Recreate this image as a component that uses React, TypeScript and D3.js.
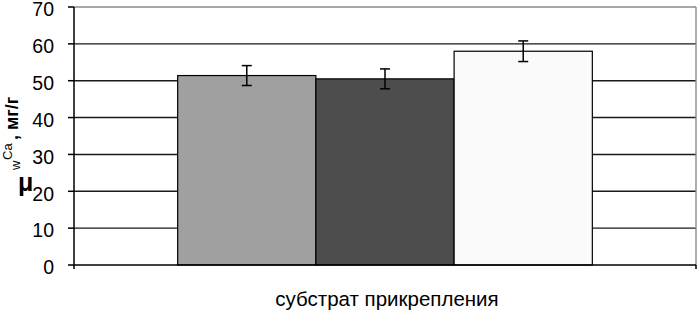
import React from "react";
import { scaleLinear, scaleBand } from "d3";

const series = ["s1", "s2", "s3"];
const values = [51.4, 50.5, 58.0];
const errors = [2.7, 2.7, 2.8];
const fills = ["#a0a0a0", "#4d4d4d", "#fafafa"];
const yTicks = [0, 10, 20, 30, 40, 50, 60, 70];
const xTitle = "субстрат прикрепления";

const W = 698;
const H = 312;
const left = 74;
const right = 696;
const top = 7;
const bottom = 265;
const font = "'Liberation Sans', Arial, sans-serif";

function App() {
  const y = scaleLinear().domain([0, 70]).range([bottom, top]);
  const x = scaleBand().domain(series).range([left, right]).paddingInner(0).paddingOuter(0.75);

  return (
    <svg width={W} height={H} style={{ position: "absolute", left: 0, top: 0 }} fontFamily={font}>
      <rect x={0} y={0} width={W} height={H} fill="#fff" />
      {/* gridlines */}
      {yTicks.filter(t => t > 0 && t < 70).map(t => (
        <line key={t} x1={left} x2={right} y1={y(t)} y2={y(t)} stroke="#1a1a1a" strokeWidth={1.4} />
      ))}
      {/* plot border */}
      <line x1={left} x2={right} y1={y(70)} y2={y(70)} stroke="#8a8a8a" strokeWidth={1.4} />
      <line x1={right} x2={right} y1={top} y2={bottom} stroke="#8a8a8a" strokeWidth={1.4} />
      {/* bars */}
      {series.map((s, i) => (
        <rect key={s} x={x(s)} y={y(values[i])} width={x.bandwidth()} height={bottom - y(values[i])}
          fill={fills[i]} stroke="#000" strokeWidth={1.2} />
      ))}
      {/* error bars */}
      {series.map((s, i) => {
        const cx = (x(s) as number) + x.bandwidth() / 2;
        const hi = y(values[i] + errors[i]);
        const lo = y(values[i] - errors[i]);
        return (
          <g key={s} stroke="#000" strokeWidth={1.5}>
            <line x1={cx} x2={cx} y1={hi} y2={lo} />
            <line x1={cx - 5} x2={cx + 5} y1={hi} y2={hi} />
            <line x1={cx - 5} x2={cx + 5} y1={lo} y2={lo} />
          </g>
        );
      })}
      {/* axes */}
      <line x1={left} x2={left} y1={top} y2={bottom + 4} stroke="#000" strokeWidth={1.5} />
      <line x1={left} x2={right} y1={bottom} y2={bottom} stroke="#000" strokeWidth={1.5} />
      <line x1={right} x2={right} y1={bottom} y2={bottom + 4} stroke="#000" strokeWidth={1.5} />
      {yTicks.map(t => (
        <g key={t}>
          <line x1={left - 6} x2={left} y1={y(t)} y2={y(t)} stroke="#000" strokeWidth={1.5} />
          <text x={54} y={y(t) + 2.5} dy="0.35em" textAnchor="end" fontSize={19.5} fill="#000">{t}</text>
        </g>
      ))}
      {/* x title */}
      <text x={387} y={306} textAnchor="middle" fontSize={20.5} fill="#000">{xTitle}</text>
      {/* y title */}
      <text x={18} y={191} fontSize={25} fontWeight="bold" fill="#000">μ</text>
      <text transform="rotate(-90)" fill="#000">
        <tspan x={-170} y={20} fontSize={13}>w</tspan>
        <tspan x={-160} y={12} fontSize={13}>Ca</tspan>
        <tspan x={-140} y={18} fontSize={18} fontWeight="bold">, мг/г</tspan>
      </text>
    </svg>
  );
}

export default App;
